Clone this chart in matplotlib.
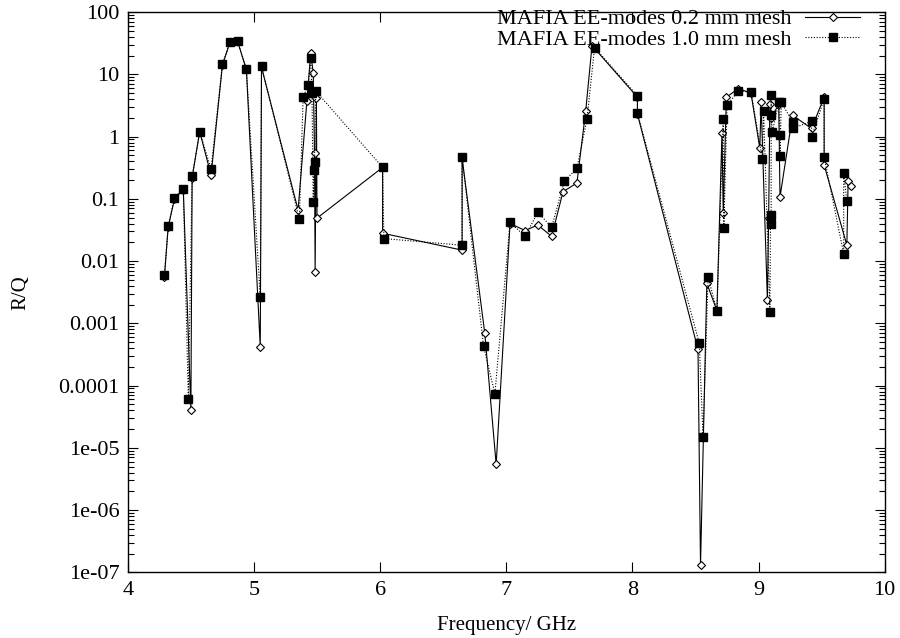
#!/usr/bin/env python3

# R/Q of the EE-modes versus frequency, two mesh sizes (gnuplot look)

import numpy as np
import matplotlib.pyplot as plt
from matplotlib.ticker import FixedLocator, FixedFormatter, LogLocator, NullFormatter

plt.rcParams['font.family'] = ['Liberation Serif', 'DejaVu Serif']

# 0.2 mm mesh (open diamonds, solid line)
freq_fine = [4.29, 4.32, 4.37, 4.44, 4.50, 4.51, 4.57, 4.66, 4.75, 4.81,
             4.87, 4.94, 5.05, 5.06, 5.35, 5.42, 5.45, 5.47, 5.48, 5.485,
             5.495, 5.50, 6.02, 6.02, 6.65, 6.65, 6.83, 6.92, 7.03, 7.15,
             7.25, 7.36, 7.45, 7.56, 7.63, 7.68, 8.04, 8.04, 8.52, 8.54,
             8.59, 8.67, 8.71, 8.72, 8.745, 8.84, 8.94, 9.01, 9.02, 9.07,
             9.08, 9.09, 9.10, 9.16, 9.17, 9.27, 9.42, 9.52, 9.52, 9.70,
             9.71, 9.73]
rq_fine = [0.0055, 0.035, 0.10, 0.14, 4e-5, 0.22, 1.2, 0.24, 14, 33,
           34, 12, 0.00042, 13, 0.066, 3.8, 22, 10.5, 0.54, 0.0066,
           4.1, 0.049, 0.32, 0.028, 0.015, 0.45, 0.00069, 5.4e-6, 0.040, 0.031,
           0.038, 0.025, 0.13, 0.18, 2.6, 29, 4.3, 2.3, 0.00038, 1.3e-7,
           0.0044, 0.0016, 1.13, 0.060, 4.3, 5.9, 5.0, 0.65, 3.6, 0.0024,
           0.050, 3.4, 2.0, 3.3, 0.107, 2.2, 1.35, 4.3, 0.35, 0.018,
           0.19, 0.16]

# 1.0 mm mesh (filled squares, dotted line)
freq_coarse = [4.29, 4.32, 4.37, 4.44, 4.48, 4.51, 4.57, 4.66, 4.75, 4.81,
               4.87, 4.94, 5.05, 5.06, 5.36, 5.39, 5.43, 5.45, 5.46, 5.47,
               5.475, 5.48, 5.49, 6.02, 6.03, 6.65, 6.65, 6.82, 6.91, 7.03,
               7.15, 7.25, 7.36, 7.46, 7.56, 7.64, 7.70, 8.04, 8.04, 8.53,
               8.56, 8.60, 8.67, 8.72, 8.725, 8.75, 8.84, 8.94, 9.03, 9.04,
               9.09, 9.095, 9.10, 9.10, 9.10, 9.11, 9.16, 9.17, 9.17, 9.18,
               9.27, 9.27, 9.42, 9.42, 9.52, 9.52, 9.675, 9.675, 9.70]
rq_coarse = [0.0059, 0.036, 0.105, 0.145, 6e-5, 0.23, 1.2, 0.30, 14.5, 33,
             34, 12, 0.0026, 13.5, 0.047, 4.3, 6.7, 18, 5.0, 0.089,
             0.29, 0.39, 5.4, 0.32, 0.023, 0.018, 0.47, 0.00043, 7.4e-5, 0.042,
             0.025, 0.061, 0.035, 0.19, 0.31, 1.9, 27, 4.5, 2.4, 0.00048,
             1.5e-5, 0.0055, 0.0016, 1.9, 0.034, 3.2, 5.4, 5.2, 0.44, 2.6,
             0.0015, 0.056, 0.039, 4.6, 2.2, 1.2, 3.6, 1.05, 0.48, 3.6,
             1.7, 1.35, 1.77, 0.99, 4.0, 0.47, 0.013, 0.26, 0.091]

ytick_vals = [1e-7, 1e-6, 1e-5, 1e-4, 1e-3, 1e-2, 1e-1, 1, 10, 100]
ytick_text = ['1e-07', '1e-06', '1e-05', '0.0001', '0.001', '0.01', '0.1', '1', '10', '100']
xtick_vals = [4, 5, 6, 7, 8, 9, 10]

fig = plt.figure(figsize=(9, 6.38), dpi=100)
ax = fig.add_axes([0.142, 0.103, 0.841, 0.878])

ax.plot(freq_fine, rq_fine, color='black', lw=0.8, marker='D', ms=4,
        mfc='white', mec='black', mew=0.8, label='MAFIA EE-modes 0.2 mm mesh')
ax.plot(freq_coarse, rq_coarse, color='black', lw=0.8, ls=(0, (1, 1.5)),
        marker='s', ms=6, mfc='black', mec='black',
        label='MAFIA EE-modes 1.0 mm mesh')

ax.set_yscale('log')
ax.set_xlim(4, 10)
ax.set_ylim(1e-7, 100)

ax.xaxis.set_major_locator(FixedLocator(xtick_vals))
ax.yaxis.set_major_locator(FixedLocator(ytick_vals))
ax.yaxis.set_major_formatter(FixedFormatter(ytick_text))
ax.yaxis.set_minor_locator(LogLocator(base=10, subs=np.arange(2, 10), numticks=20))
ax.yaxis.set_minor_formatter(NullFormatter())

ax.tick_params(which='both', direction='in', top=True, right=True, labelsize=16, width=0.8)
ax.tick_params(which='major', length=7, pad=6)
ax.tick_params(which='minor', length=4)
for sp in ax.spines.values():
    sp.set_linewidth(1.0)

ax.set_xlabel('Frequency/ GHz', fontsize=15, labelpad=12)
ax.set_ylabel('R/Q', fontsize=15, labelpad=20)

ax.legend(loc='upper right', frameon=False, markerfirst=False, fontsize=16,
          handlelength=2.5, handletextpad=0.6, borderaxespad=0.0,
          borderpad=0.0, labelspacing=0.0, bbox_to_anchor=(0.968, 1.006))

fig.savefig('out.png', dpi=100)
